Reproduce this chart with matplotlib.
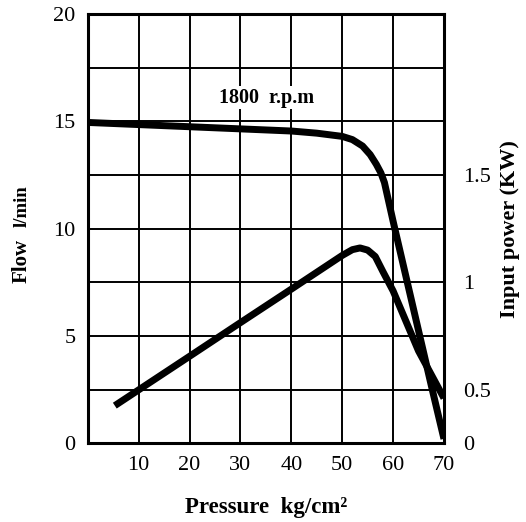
import matplotlib
matplotlib.use("Agg")
import matplotlib.pyplot as plt

# data
flow_pressure = [0, 10, 20, 30, 40, 45, 50, 52, 54, 55.5, 56.7, 57.6, 58.3, 60, 62.5, 65, 67.5, 70]
flow_values = [14.95, 14.85, 14.75, 14.65, 14.55, 14.45, 14.3, 14.15, 13.85, 13.45, 13.0, 12.6,
               12.15, 10.35, 7.8, 5.25, 2.7, 0.2]

power_pressure = [5.3, 20, 30, 40, 50, 52, 53.5, 55, 56.5, 58, 60, 62.5, 65, 67.5, 70]
power_values = [1.75, 4.05, 5.62, 7.18, 8.75, 9.02, 9.1, 9.0, 8.7, 8.0, 7.1, 5.7, 4.3, 3.2, 2.1]

x_ticks = [10, 20, 30, 40, 50, 60, 70]
y_ticks = [0, 5, 10, 15, 20]
power_tick_pos = [0, 2.5, 7.5, 12.5]
power_tick_labels = ["0", "0.5", "1", "1.5"]

plt.rcParams['font.family'] = ['Liberation Serif', 'DejaVu Serif']

fig = plt.figure(figsize=(5.26, 5.22), dpi=100)
ax = fig.add_axes([0.167, 0.151, 0.677, 0.822])

ax.plot(flow_pressure, flow_values, color='black', lw=5, solid_capstyle='butt',
        solid_joinstyle='round', zorder=3)
ax.plot(power_pressure, power_values, color='black', lw=5, solid_capstyle='butt',
        solid_joinstyle='round', zorder=3)

ax.set_xlim(0, 70)
ax.set_ylim(0, 20)
ax.set_xticks(x_ticks)
ax.set_yticks(y_ticks)
ax.set_yticks([i * 2.5 for i in range(9)], minor=True)
ax.grid(True, which='both', color='black', lw=1.4)
ax.tick_params(which='both', length=0, labelsize=16)
ax.tick_params(axis='x', pad=9)
ax.tick_params(axis='y', pad=9)
for s in ax.spines.values():
    s.set_linewidth(2.2)

ax2 = ax.twinx()
ax2.set_ylim(0, 20)
ax2.set_yticks(power_tick_pos)
ax2.set_yticklabels(power_tick_labels)
ax2.tick_params(length=0, labelsize=16, pad=14)
for s in ax2.spines.values():
    s.set_visible(False)

ax.text(35.2, 16.1, "1800  r.p.m", fontsize=14.5, fontweight='bold', ha='center', va='center',
        bbox=dict(facecolor='white', edgecolor='none', pad=1), zorder=4)

ax.text(-0.185, 0.424, "Flow", transform=ax.transAxes, rotation=90, fontsize=15,
        fontweight='bold', ha='center', va='center')
ax.text(-0.185, 0.552, "l/min", transform=ax.transAxes, rotation=90, fontsize=13.5,
        fontweight='bold', ha='center', va='center')
ax2.set_ylabel("Input power (KW)", fontsize=16, fontweight='bold', labelpad=6)
ax.set_xlabel("Pressure  kg/cm²", fontsize=16.5, fontweight='bold', labelpad=16)

fig.savefig("out.png", dpi=100)
